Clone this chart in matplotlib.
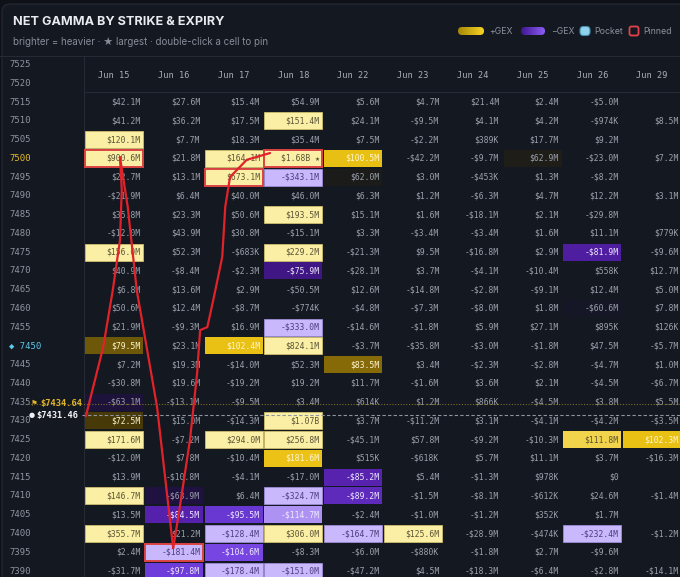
import matplotlib
matplotlib.use("Agg")
import matplotlib.pyplot as plt
import numpy as np
from matplotlib.colors import LinearSegmentedColormap, to_rgb
from matplotlib.patches import Rectangle, FancyBboxPatch

# ---- data (net GEX, $ millions) ----
expiries = ["Jun 15", "Jun 16", "Jun 17", "Jun 18", "Jun 22",
            "Jun 23", "Jun 24", "Jun 25", "Jun 26", "Jun 29"]
label_strikes = list(range(7525, 7385, -5))
strikes = list(range(7515, 7385, -5))

jun15 = [42.1, 41.2, 120.1, 900.6, 22.7, -21.9, 35.8, -12.0, 156.0, 40.9, 6.8, 50.6, 21.9,
         79.5, 7.2, -30.8, -63.1, 72.5, 171.6, -12.0, 13.9, 146.7, 13.5, 355.7, 2.4, -31.7]
jun16 = [27.6, 36.2, 7.7, 21.8, 13.1, 6.4, 23.3, 43.9, 52.3, -8.4, 13.6, 12.4, -9.3,
         23.1, 19.3, 19.6, -13.1, 15.0, -7.2, 7.8, -10.8, -63.9, -84.5, 21.2, -181.4, -97.8]
jun17 = [15.4, 17.5, 18.3, 164.1, 673.1, 40.0, 50.6, 30.8, -0.683, -2.3, 2.9, -8.7, 16.9,
         102.4, -14.0, -19.2, -9.5, -14.3, 294.0, -10.4, -4.1, 6.4, -95.5, -128.4, -104.6, -178.4]
jun18 = [54.9, 151.4, 35.4, 1680.0, -343.1, 46.0, 193.5, -15.1, 229.2, -75.9, -50.5, -0.774, -333.0,
         824.1, 52.3, 19.2, 3.4, 1070.0, 256.8, 181.6, -17.0, -324.7, -114.7, 306.0, -8.3, -151.0]
jun22 = [5.6, 24.1, 7.5, 100.5, 62.0, 6.3, 15.1, 3.3, -21.3, -28.1, 12.6, -4.8, -14.6,
         -3.7, 83.5, 11.7, 0.614, 3.7, -45.1, 0.515, -85.2, -89.2, -2.4, -164.7, -6.0, -47.2]
jun23 = [4.7, -9.5, -2.2, -42.2, 3.0, 1.2, 1.6, -3.4, 9.5, 3.7, -14.8, -7.3, -1.8,
         -35.8, 3.4, -1.6, 1.2, -11.2, 57.8, -0.618, 5.4, -1.5, -1.0, 125.6, -0.880, 4.5]
jun24 = [21.4, 4.1, 0.389, -9.7, -0.453, -6.3, -18.1, -3.4, -16.8, -4.1, -2.8, -8.0, 5.9,
         -3.0, -2.3, 3.6, 0.866, 3.1, -9.2, 5.7, -1.3, -8.1, -1.2, -28.9, -1.8, -18.3]
jun25 = [2.4, 4.2, 17.7, 62.9, 1.3, 4.7, 2.1, 1.6, 2.9, -10.4, -9.1, 1.8, 27.1,
         -1.8, -2.8, 2.1, -4.5, -4.1, -10.3, 11.1, 0.978, -0.612, 0.352, -0.474, 2.7, -6.4]
jun26 = [-5.0, -0.974, 9.2, -23.0, -8.2, 12.2, -29.8, 11.1, -81.9, 0.558, 12.4, -60.6, 0.895,
         47.5, -4.7, -4.5, 3.8, -4.2, 111.8, 3.7, 0.0, 24.6, 1.7, -232.4, -9.6, -2.8]
jun29 = [None, 8.5, None, 7.2, None, 3.1, None, 0.779, -9.6, 12.7, 5.0, 7.8, 0.126,
         -5.7, 1.0, -6.7, 5.5, -3.5, 102.3, -16.3, None, -1.4, None, -1.2, None, -14.1]
columns = [jun15, jun16, jun17, jun18, jun22, jun23, jun24, jun25, jun26, jun29]

pinned = [("Jun 15", 7500), ("Jun 17", 7495), ("Jun 18", 7500), ("Jun 16", 7395)]
accent = [("Jun 18", 7420)]
spot_flag = 7434.64
spot_last = 7431.46
pocket_strike = 7450
key_strike = 7500

# hand-drawn red annotation strokes (expiry index, strike)
stroke_a = [(-0.47, 7431.3), (-0.18, 7449.7), (-0.02, 7464.9), (0.10, 7478.2), (0.13, 7491.6), (0.10, 7500.3)]
stroke_b = [(0.10, 7500.3), (0.23, 7487.0), (0.38, 7464.9), (0.72, 7433.7), (0.99, 7396.1)]
stroke_c = [(0.99, 7396.1), (1.10, 7407.0), (1.27, 7424.9), (1.39, 7442.7), (1.44, 7454.2),
            (1.56, 7455.0), (1.66, 7462.2), (1.81, 7473.7), (1.86, 7487.0), (1.94, 7495.0),
            (2.22, 7499.6), (2.61, 7501.4)]

# ---- style ----
BG = "#141821"
OUTER = "#0e1117"
LINE = "#252a35"
TXT = "#9ca2ad"
MONO = ["DejaVu Sans Mono", "DejaVu Sans"]
W, H = 680, 577
col_w, row_h = 59.8, 18.76
x_c0, y_top = 114.0, 64.5

pos_cmap = LinearSegmentedColormap.from_list(
    "pos", [(0, BG), (0.15, "#2e2608"), (0.4, "#6a5508"), (0.5, "#8a6c08"), (0.8, "#e6be12"), (1, "#eec418")])
neg_cmap = LinearSegmentedColormap.from_list(
    "neg", [(0, BG), (0.15, "#2a0c5c"), (0.5, "#5420aa"), (0.8, "#6e3ddc"), (1, "#7a4ae6")])


def fmt(v):
    a = abs(v)
    sign = "-" if v < 0 else ""
    if a == 0:
        return "$0"
    if a >= 1000:
        s = f"{a / 1000:.2f}B"
    elif a >= 1:
        s = f"{a:.1f}M"
    else:
        s = f"{a * 1000:.0f}K"
    return f"{sign}${s}"


def mix(c1, c2, u):
    a, b = np.array(to_rgb(c1)), np.array(to_rgb(c2))
    return tuple(a + (b - a) * u)


def cell_style(v, is_accent):
    a = abs(v)
    pos = v > 0
    full = "#ebc215" if pos else "#7442e2"
    pale = "#fbefa6" if pos else "#c9b8fc"
    light_txt = "#fff6cf" if pos else "#f1ebff"
    dark_txt = "#5a5434" if pos else "#4b3d7c"
    if is_accent:
        return full, light_txt, None
    if a < 60:
        return None, TXT, None
    if a < 108:
        t = (a - 60) / 48
        return (pos_cmap if pos else neg_cmap)(t), (light_txt if t > 0.2 else TXT), None
    u = min(1.0, (a - 108) / 10)
    face = mix(full, pale, u)
    dark = u > 0.3 if pos else u > 0.75
    edge = ("#cdbd6c" if pos else "#9d8bd8") if u > 0.9 else None
    return face, (dark_txt if dark else light_txt), edge


fig = plt.figure(figsize=(6.8, 5.77), dpi=100, facecolor=OUTER)

# chrome layer in pixel space
chrome = fig.add_axes([0, 0, 1, 1])
chrome.set_xlim(0, W)
chrome.set_ylim(H, 0)
chrome.axis("off")
chrome.add_patch(FancyBboxPatch((2, 4), W + 20, H + 20, boxstyle="round,pad=0,rounding_size=8",
                                fc=BG, ec=LINE, lw=0.8))
chrome.plot([0, W], [56, 56], color=LINE, lw=0.8)
chrome.plot([84, W], [92, 92], color=LINE, lw=0.8)
chrome.plot([83.5, 83.5], [56, H], color=LINE, lw=0.8)

chrome.text(13, 22, "NET GAMMA BY STRIKE & EXPIRY", color="#e9ebf0", fontsize=9.1,
            fontweight="bold", family="Inter", va="center")
chrome.text(13, 42, "brighter = heavier \u00b7 \u2605 largest \u00b7 double-click a cell to pin",
            color="#868c98", fontsize=7.0, family=["Inter", "DejaVu Sans"], va="center")

# legend
def pill(x0, x1, c0, c1):
    p = FancyBboxPatch((x0, 27), x1 - x0, 8, boxstyle="round,pad=0,rounding_size=4",
                       fc="none", ec="none")
    chrome.add_patch(p)
    grad = LinearSegmentedColormap.from_list("g", [c0, c1])
    im = chrome.imshow(np.linspace(0, 1, 50)[None, :], cmap=grad, extent=[x0, x1, 35, 27],
                       aspect="auto", zorder=2)
    im.set_clip_path(p)

pill(458, 484, "#a88806", "#f6d326")
pill(521, 545, "#3e1890", "#8d5cf6")
chrome.add_patch(FancyBboxPatch((580, 26.5), 10, 9, boxstyle="round,pad=0,rounding_size=3.5",
                                fc="#8ed2ec", ec="#4a8cab", lw=0.8))
chrome.add_patch(FancyBboxPatch((629.5, 26.5), 9, 9, boxstyle="round,pad=0,rounding_size=2",
                                fc="none", ec="#e0414a", lw=1.3))
for x, s in [(489, "+GEX"), (551, "\u2212GEX"), (594, "Pocket"), (643, "Pinned")]:
    chrome.text(x, 31, s, color="#8b919c", fontsize=6.3, family="Inter", va="center")

# grid layer: x = expiry index, y = strike
grid = fig.add_axes([0, 0, 1, 1], facecolor="none")
grid.set_xlim(-x_c0 / col_w, (W - x_c0) / col_w)
grid.set_ylim(7525 - (H - y_top) / row_h * 5, 7525 + y_top / row_h * 5)
grid.axis("off")

for i, name in enumerate(expiries):
    grid.text(i, 7522.2, name, color="#a9aeb8", fontsize=6.2, family=MONO, ha="center", va="center")

for s in label_strikes:
    c, lab = "#8f95a0", str(s)
    if s == key_strike:
        c = "#e6bd2c"
    if s == pocket_strike:
        c, lab = "#5cc8ea", "\u25c6 " + str(s)
    grid.text(-1.756, s, lab, color=c, fontsize=6.4, family=MONO, va="center")

big = max(abs(v) for col in columns for v in col if v is not None)
for i, col in enumerate(columns):
    for s, v in zip(strikes, col):
        if v is None:
            continue
        face, tc, edge = cell_style(v, (expiries[i], s) in accent)
        is_pin = (expiries[i], s) in pinned
        if face is not None or is_pin:
            grid.add_patch(Rectangle((i - 0.485, s - 2.27), 0.97, 4.54,
                                     fc=face if face is not None else "none",
                                     ec="#dc4444" if is_pin else (edge or "none"),
                                     lw=1.4 if is_pin else 0.6, zorder=2))
        label = fmt(v) + (" \u2605" if abs(v) == big else "")
        grid.text(i + 0.44, s, label, color=tc, fontsize=5.8, family=MONO,
                  ha="right", va="center", zorder=3)

# spot price markers
x_left = (28 - x_c0) / col_w
grid.plot([x_left, 10], [spot_flag, spot_flag], color="#7d6a22", lw=0.8, ls=(0, (1, 1.5)), zorder=4)
grid.plot([(82 - x_c0) / col_w, 10], [spot_last, spot_last], color="#8e94a0", lw=0.8,
          ls=(0, (3, 2)), zorder=4)
grid.text((31 - x_c0) / col_w, spot_flag, "\u2691", color="#e0b52a", fontsize=5.5,
          family="DejaVu Sans", va="center", zorder=5)
grid.text((40 - x_c0) / col_w, spot_flag, f"${spot_flag:.2f}", color="#e0b52a", fontsize=6.3,
          family=MONO, fontweight="bold", va="center", zorder=5)
grid.text((29 - x_c0) / col_w, spot_last, "\u25cf", color="#f2f2f2", fontsize=5,
          family="DejaVu Sans", va="center", zorder=5)
grid.text((36 - x_c0) / col_w, spot_last, f"${spot_last:.2f}", color="#f4f4f6", fontsize=6.3,
          family=MONO, fontweight="bold", va="center", zorder=5)

for stroke in (stroke_a, stroke_b, stroke_c):
    xs, ys = zip(*stroke)
    grid.plot(xs, ys, color="#e0222a", lw=1.6, solid_capstyle="round",
              solid_joinstyle="round", zorder=6)

fig.savefig("out.png", dpi=100, facecolor=OUTER)
